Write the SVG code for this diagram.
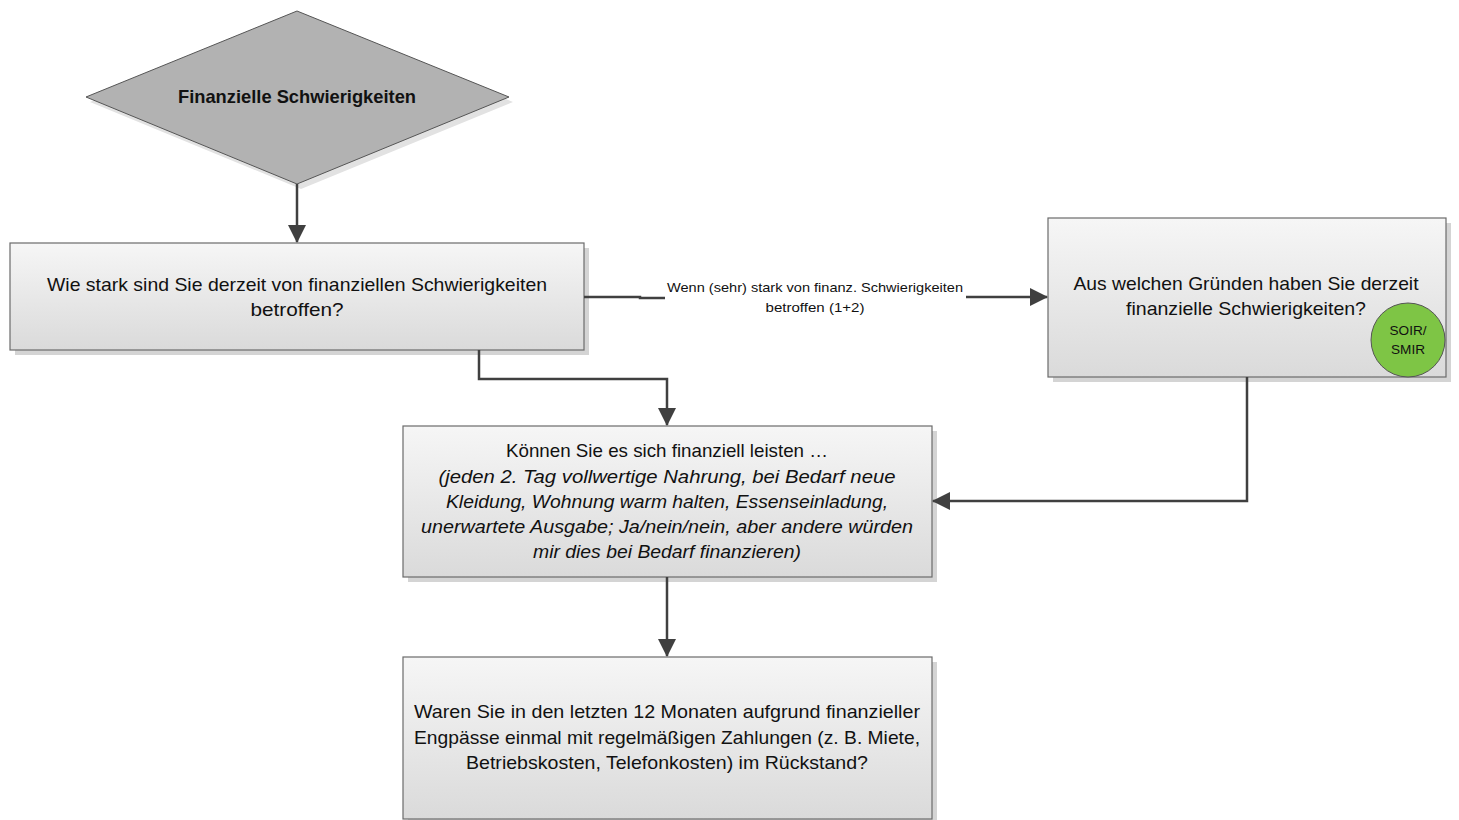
<svg xmlns="http://www.w3.org/2000/svg" width="1459" height="820" viewBox="0 0 1459 820">
<style>
.box{fill:url(#g);stroke:#6b6b6b;stroke-width:1.2}
.sh{fill:#d4d4d4}
.t{font-family:"Liberation Sans",Arial,sans-serif;font-size:18.5px;fill:#111;text-anchor:middle}
.it{font-style:italic}
.lbl{font-family:"Liberation Sans",Arial,sans-serif;font-size:13.5px;fill:#111;text-anchor:middle}
.c{fill:none;stroke:#404040;stroke-width:2.5}
</style>
<defs>
<linearGradient id="g" x1="0" y1="0" x2="0" y2="1">
<stop offset="0" stop-color="#f6f6f6"/>
<stop offset="1" stop-color="#dadada"/>
</linearGradient>
<marker id="ah" viewBox="0 0 18 18" refX="17" refY="9" markerWidth="18" markerHeight="18" markerUnits="userSpaceOnUse" orient="auto">
<path d="M0,0 L18,9 L0,18 z" fill="#404040"/>
</marker>
</defs>
<rect width="1459" height="820" fill="#fff"/>

<g id="n-diamond">
<polygon points="301,16 513,102 301,189 90,102" fill="#e2e2e2"/>
<polygon points="297,11 509,97 297,184 86,97" fill="#b2b2b2" stroke="#555" stroke-width="1"/>
<text class="t" x="297" y="103" font-weight="bold" textLength="238" lengthAdjust="spacingAndGlyphs">Finanzielle Schwierigkeiten</text>
</g>

<g id="n-q1">
<rect class="sh" x="15" y="248" width="574" height="107"/>
<rect class="box" x="10" y="243" width="574" height="107"/>
<text class="t" x="297" y="291" textLength="500" lengthAdjust="spacingAndGlyphs">Wie stark sind Sie derzeit von finanziellen Schwierigkeiten</text>
<text class="t" x="297" y="316" textLength="93" lengthAdjust="spacingAndGlyphs">betroffen?</text>
</g>

<g id="n-q2">
<rect class="sh" x="1053" y="223" width="398" height="159"/>
<rect class="box" x="1048" y="218" width="398" height="159"/>
<text class="t" x="1246" y="290" textLength="345" lengthAdjust="spacingAndGlyphs">Aus welchen Gründen haben Sie derzeit</text>
<text class="t" x="1246" y="315" textLength="240" lengthAdjust="spacingAndGlyphs">finanzielle Schwierigkeiten?</text>
<circle cx="1408" cy="340" r="37" fill="#7ec545" stroke="#555" stroke-width="1"/>
<text class="lbl" x="1408" y="335" textLength="37" lengthAdjust="spacingAndGlyphs">SOIR/</text>
<text class="lbl" x="1408" y="354" textLength="34" lengthAdjust="spacingAndGlyphs">SMIR</text>
</g>

<g id="n-q3">
<rect class="sh" x="408" y="431" width="529" height="151"/>
<rect class="box" x="403" y="426" width="529" height="151"/>
<text class="t" x="667" y="457" textLength="322" lengthAdjust="spacingAndGlyphs">Können Sie es sich finanziell leisten …</text>
<text class="t it" x="667" y="483" textLength="457" lengthAdjust="spacingAndGlyphs">(jeden 2. Tag vollwertige Nahrung, bei Bedarf neue</text>
<text class="t it" x="667" y="508" textLength="442" lengthAdjust="spacingAndGlyphs">Kleidung, Wohnung warm halten, Essenseinladung,</text>
<text class="t it" x="667" y="533" textLength="492" lengthAdjust="spacingAndGlyphs">unerwartete Ausgabe; Ja/nein/nein, aber andere würden</text>
<text class="t it" x="667" y="558" textLength="268" lengthAdjust="spacingAndGlyphs">mir dies bei Bedarf finanzieren)</text>
</g>

<g id="n-q4">
<rect class="sh" x="408" y="662" width="529" height="163"/>
<rect class="box" x="403" y="657" width="529" height="162"/>
<text class="t" x="667" y="718" textLength="506" lengthAdjust="spacingAndGlyphs">Waren Sie in den letzten 12 Monaten aufgrund finanzieller</text>
<text class="t" x="667" y="744" textLength="506" lengthAdjust="spacingAndGlyphs">Engpässe einmal mit regelmäßigen Zahlungen (z. B. Miete,</text>
<text class="t" x="667" y="769" textLength="402" lengthAdjust="spacingAndGlyphs">Betriebskosten, Telefonkosten) im Rückstand?</text>
</g>

<g id="connectors">
<path class="c" d="M297,184 V242" marker-end="url(#ah)"/>
<path class="c" d="M584,297 H640 V298 H665 M966,297 H1047" marker-end="url(#ah)"/>
<text class="lbl" x="815" y="292" textLength="296" lengthAdjust="spacingAndGlyphs">Wenn (sehr) stark von finanz. Schwierigkeiten</text>
<text class="lbl" x="815" y="312" textLength="99" lengthAdjust="spacingAndGlyphs">betroffen (1+2)</text>
<path class="c" d="M479,350 V379 H667 V425" marker-end="url(#ah)"/>
<path class="c" d="M1247,377 V501 H933" marker-end="url(#ah)"/>
<path class="c" d="M667,577 V656" marker-end="url(#ah)"/>
</g>
</svg>
